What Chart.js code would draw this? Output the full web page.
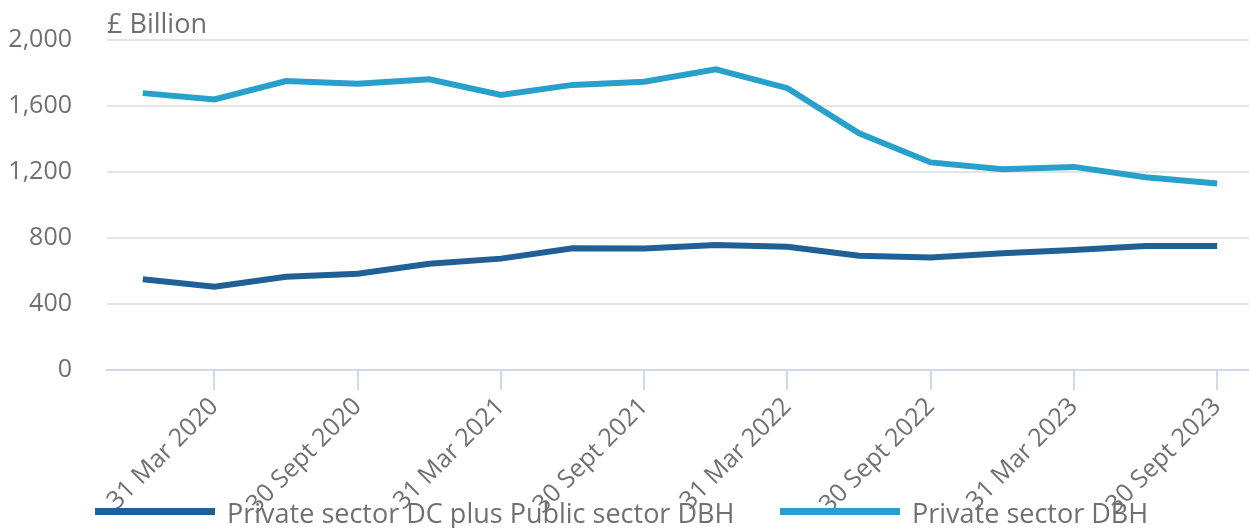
<!DOCTYPE html>
<html>
<head>
<meta charset="utf-8">
<script src="https://cdn.jsdelivr.net/npm/chart.js@4.4.1/dist/chart.umd.min.js"></script>
<style>
  body { margin: 0; background: #fff; }
  #wrap { position: relative; width: 1249px; height: 528px; overflow: hidden; }
  #myChart { position: absolute; left: 0; top: 0; }
  .legend { position: absolute; top: 494px; left: 0; font-family: "Open Sans", sans-serif; font-size: 27px; color: #707070; }
  .item { position: absolute; white-space: nowrap; }
  .item span.sw { position: absolute; top: 14px; height: 7px; }
  .item span.tx { position: absolute; top: 0; white-space: nowrap; }
</style>
</head>
<body>
<div id="wrap">
  <canvas id="myChart" width="1253" height="528"></canvas>
  <div class="legend" id="legend"></div>
</div>
<script>
// quarter end dates
var quarters = ["31 Dec 2019", "31 Mar 2020", "30 June 2020", "30 Sept 2020", "31 Dec 2020", "31 Mar 2021",
  "30 June 2021", "30 Sept 2021", "31 Dec 2021", "31 Mar 2022", "30 June 2022", "30 Sept 2022",
  "31 Dec 2022", "31 Mar 2023", "30 June 2023", "30 Sept 2023"];
var dcPlusPublic = [550, 505, 565, 584, 644, 675, 738, 737, 758, 747, 693, 682, 708, 728, 751, 752];
var privateDbh = [1678, 1640, 1751, 1735, 1762, 1667, 1728, 1747, 1822, 1708, 1435, 1258, 1216, 1231, 1168, 1130];
var seriesNames = ["Private sector DC plus Public sector DBH", "Private sector DBH"];
var seriesColours = ["#206095", "#27a0cc"];
var yTicks = [0, 400, 800, 1200, 1600, 2000];

var grey = "#707070";
var font = "'Open Sans', sans-serif";

// units label top left
var unitLabel = {
  id: "unitLabel",
  afterDraw: function(chart){
    var c = chart.ctx;
    c.save();
    c.font = "27px " + font;
    c.fillStyle = grey;
    c.textBaseline = "alphabetic";
    c.fillText("£ Billion", chart.chartArea.left, 33);
    c.restore();
  }
};

const ctx = document.getElementById('myChart').getContext('2d');
var myChart = new Chart(ctx, {
  type: 'line',
  data: {
    labels: quarters,
    datasets: [{
      label: seriesNames[0],
      data: dcPlusPublic,
      borderColor: seriesColours[0],
      backgroundColor: seriesColours[0],
      borderWidth: 6,
      pointRadius: 0,
      tension: 0
    }, {
      label: seriesNames[1],
      data: privateDbh,
      borderColor: seriesColours[1],
      backgroundColor: seriesColours[1],
      borderWidth: 6,
      pointRadius: 0,
      tension: 0
    }]
  },
  options: {
    responsive: false,
    animation: false,
    layout: { padding: { top: 40, right: 0, left: 0, bottom: 0 } },
    plugins: {
      legend: { display: false }
    },
    scales: {
      x: {
        offset: true,
        grid: {
          offset: false,
          drawOnChartArea: false,
          drawTicks: true,
          tickLength: 20,
          lineWidth: 2,
          color: function(c){ return c.index % 2 === 1 ? "#d0d9ec" : "rgba(0,0,0,0)"; }
        },
        border: { display: true, color: "#d0d9ec", width: 2 },
        ticks: {
          autoSkip: false,
          maxRotation: 45,
          minRotation: 45,
          padding: 2,
          color: grey,
          font: { family: font, size: 25 },
          callback: function(v, i){ return i % 2 === 1 ? quarters[i] : ""; }
        },
        afterFit: function(scale){ scale.height = 158; }
      },
      y: {
        min: yTicks[0],
        max: yTicks[yTicks.length - 1],
        afterBuildTicks: function(scale){ scale.ticks = yTicks.map(function(v){ return { value: v }; }); },
        grid: {
          drawTicks: false,
          lineWidth: 2,
          color: function(c){ return c.tick && c.tick.value === 0 ? "rgba(0,0,0,0)" : "#e4e4e4"; }
        },
        border: { display: false },
        ticks: {
          padding: 35,
          color: grey,
          font: { family: font, size: 25 },
          callback: function(v){ return v.toLocaleString('en-GB'); }
        },
        afterFit: function(scale){
          scale.width = 107;
          // tick padding would otherwise push the plot top down
          scale.paddingTop = 0;
          scale.paddingBottom = 0;
        }
      }
    }
  },
  plugins: [unitLabel]
});

// html legend, overlapping the axis labels like the original
var legendPos = [{ sw: 95, swW: 120, tx: 227 }, { sw: 780, swW: 120, tx: 912 }];
var lg = document.getElementById("legend");
seriesNames.forEach(function(name, i){
  var it = document.createElement("div");
  it.className = "item";
  it.innerHTML = '<span class="sw" style="left:' + legendPos[i].sw + 'px;width:' + legendPos[i].swW + 'px;background:' + seriesColours[i] + '"></span>' +
    '<span class="tx" style="left:' + legendPos[i].tx + 'px">' + name + '</span>';
  lg.appendChild(it);
});
</script>
</body>
</html>
